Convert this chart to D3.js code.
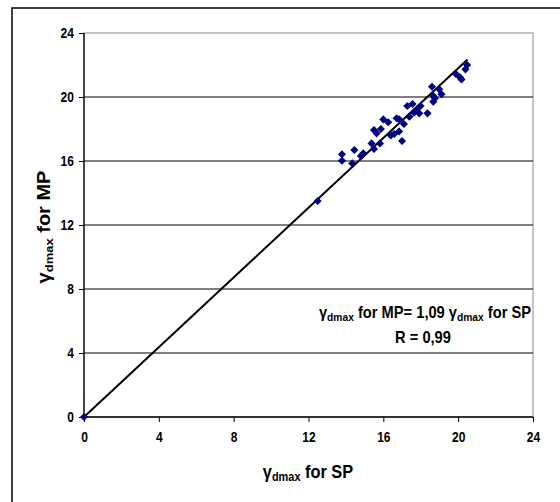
<!DOCTYPE html>
<html><head><meta charset="utf-8">
<script src="https://cdn.jsdelivr.net/npm/d3@7"></script>
<style>body{margin:0;background:#fff}svg{display:block}text{font-family:"Liberation Sans",Arial,sans-serif;font-weight:bold}</style>
</head><body><svg id="c" width="560" height="502"></svg>
<script>
const spValues = [0,12.49,13.79,13.79,14.34,14.45,14.8,14.93,15.37,15.5,15.82,15.5,15.64,15.87,16.0,16.26,16.58,16.84,16.71,16.85,17.1,17.28,17.39,17.56,17.64,17.78,17.92,17.99,18.36,18.6,18.67,18.76,18.99,19.11,19.88,20.1,20.18,20.39,20.48,17.0,16.4,18.65];
const mpValues = [0,13.5,16.42,16.02,15.85,16.69,16.31,16.48,17.1,16.75,17.1,17.94,17.73,18.0,18.6,18.42,17.69,17.85,18.67,18.6,18.31,19.44,18.77,19.56,19.02,19.19,18.98,19.44,18.98,20.64,19.71,19.92,20.48,20.17,21.44,21.23,21.1,21.73,22.0,17.25,17.6,20.1];
const tickValues = [0,4,8,12,16,20,24];
const slope = 1.09;
const fitRange = [0, 20.5];
const xTitle = ["γ","dmax"," for SP"];
const yTitle = ["γ","dmax"," for MP"];
const eqLine1 = ["γ","dmax"," for MP= 1,09 ","γ","dmax"," for SP"];
const eqLine2 = "R = 0,99";

const svg = d3.select("#c");
const L=84, R=533, T=33, B=417;
const x = d3.scaleLinear().domain([0,24]).range([L,R]);
const y = d3.scaleLinear().domain([0,24]).range([B,T]);

// outer frame
svg.append("rect").attr("x",12).attr("y",8).attr("width",600).attr("height",560)
  .attr("fill","none").attr("stroke","#000").attr("stroke-width",1.5);

// plot border (gray)
svg.append("rect").attr("x",L).attr("y",T).attr("width",R-L).attr("height",B-T)
  .attr("fill","none").attr("stroke","#a0a0a0").attr("stroke-width",1.2);

// gridlines
svg.append("g").selectAll("line").data(tickValues.filter(d=>d>0&&d<24)).join("line")
  .attr("x1",L).attr("x2",R).attr("y1",d=>y(d)).attr("y2",d=>y(d))
  .attr("stroke","#000").attr("stroke-width",1);

// axes
const SX=0.86;
const xa = svg.append("g").attr("transform",`translate(0,${B})`)
  .call(d3.axisBottom(x).tickValues(tickValues).tickSize(5).tickPadding(7));
const ya = svg.append("g").attr("transform",`translate(${L},0)`)
  .call(d3.axisLeft(y).tickValues(tickValues).tickSize(5).tickPadding(5));
[xa,ya].forEach(g=>{
  g.selectAll("text").attr("font-size",14).attr("font-weight","bold").attr("font-family","Liberation Sans, Arial, sans-serif").attr("fill","#000");
  g.selectAll("path").attr("stroke","#000").attr("stroke-width",1.3);
  g.selectAll("line").attr("stroke","#000");
});
xa.selectAll("text").attr("dy","0.95em").attr("transform",`scale(${SX},1)`);
ya.selectAll("text").attr("x",-10/SX).attr("transform",`scale(${SX},1)`);
xa.select(".domain").attr("d",`M${L},0H${R}`);
ya.select(".domain").attr("d",`M0,${B}V${T}`);

// fit line
svg.append("line").attr("x1",x(fitRange[0])).attr("y1",y(slope*fitRange[0]))
  .attr("x2",x(fitRange[1])).attr("y2",y(slope*fitRange[1]))
  .attr("stroke","#000").attr("stroke-width",2);

// points
const pts = spValues.map((v,i)=>({x:v,y:mpValues[i]}));
svg.append("g").selectAll("path").data(pts).join("path")
  .attr("d",d3.symbol(d3.symbolDiamond2 || d3.symbolDiamond,42))
  .attr("transform",d=>`translate(${x(d.x)},${y(d.y)})`)
  .attr("fill","#000080");

function rich(g, parts, size, subSize, shift){
  const t = g.append("text").attr("font-size",size).attr("fill","#000").attr("text-anchor","middle");
  let shifted=false;
  parts.forEach(p=>{
    const ts=t.append("tspan").text(p);
    if(p==="dmax"){ ts.attr("font-size",subSize).attr("dy",shifted?0:shift); shifted=true; }
    else { ts.attr("dy",shifted?-shift:0); shifted=false; }
  });
  return t;
}
rich(svg.append("g").attr("transform","translate(308,478) scale(0.91,1)"),xTitle,18,12,3);
rich(svg.append("g").attr("transform","translate(50,227) rotate(-90) scale(1,0.88)"),yTitle,20,13,3);
rich(svg.append("g").attr("transform","translate(425,318) scale(0.89,1)"),eqLine1,16.5,11.5,3);
svg.append("g").attr("transform","translate(423,343) scale(0.89,1)")
  .append("text").attr("text-anchor","middle").attr("font-size",16.5).attr("fill","#000").text(eqLine2);
</script></body></html>
